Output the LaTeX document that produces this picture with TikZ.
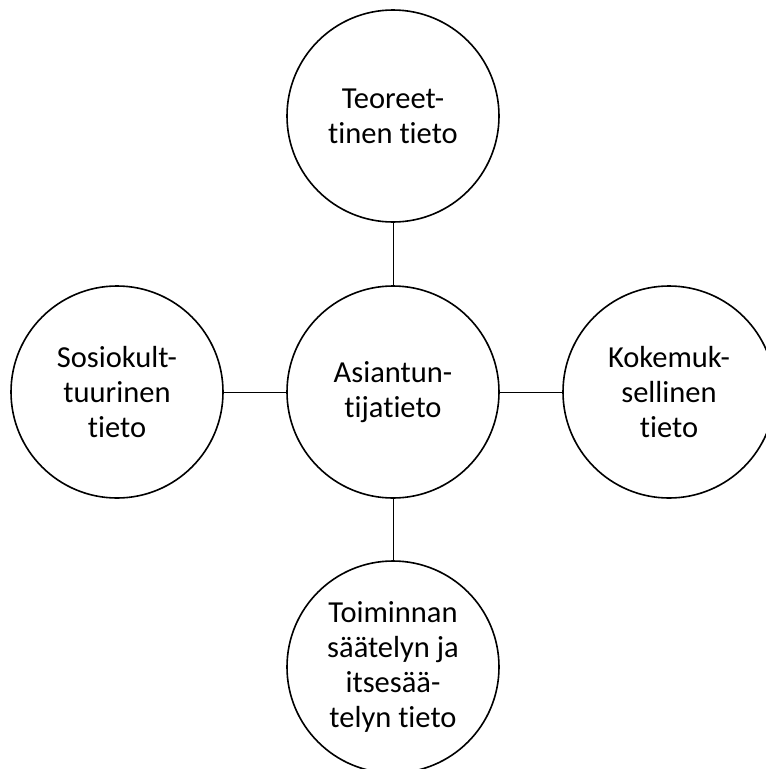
\documentclass[tikz,border=0pt]{standalone}
\usepackage{fontspec}
\setmainfont[Ligatures=NoCommon]{Carlito}
\begin{document}
\begin{tikzpicture}[x=1pt,y=1pt,
  bubble/.style={circle,draw=black,line width=1.6pt,minimum size=212pt,inner sep=0pt,align=center,
    font=\fontsize{30.5}{35}\selectfont},
  link/.style={draw=black,line width=0.9pt}]
\useasboundingbox (0,0) rectangle (766,-769);
\node[bubble] (c) at (393,-392) {Asiantun-\\tijatieto};
\node[bubble] (t) at (393,-116) {Teoreet-\\tinen tieto};
\node[bubble] (l) at (117,-392) {Sosiokult-\\tuurinen\\tieto};
\node[bubble] (r) at (669,-392) {Kokemuk-\\sellinen\\tieto};
\node[bubble] (b) at (393,-667) {Toiminnan\\säätelyn ja\\itsesää-\\telyn tieto};
\draw[link] (c) -- (t);
\draw[link] (c) -- (l);
\draw[link] (c) -- (r);
\draw[link] (c) -- (b);
\end{tikzpicture}
\end{document}
